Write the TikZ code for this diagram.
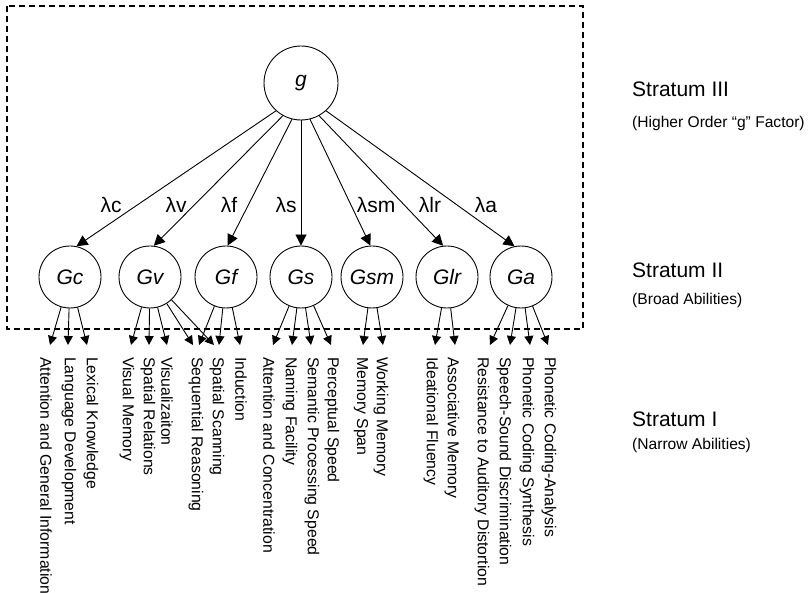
\documentclass[tikz,border=0pt]{standalone}
\usepackage{fontspec}
\setmainfont{Liberation Sans}
\usetikzlibrary{arrows.meta}
\begin{document}
\begin{tikzpicture}[x=1pt,y=-1pt,
  every node/.style={inner sep=0pt},
  latent/.style={circle,draw,line width=0.9pt,minimum size=62pt,font=\fontsize{21}{25}\selectfont\itshape},
  gnode/.style={latent,minimum size=74pt},
  load/.style={line width=0.9pt,-{Triangle[length=11pt,width=11pt]}},
  sub load/.style={line width=0.9pt,-{Triangle[length=9pt,width=9pt]}},
  narrow/.style={rotate=-90,anchor=west,font=\fontsize{15.8}{18}\selectfont},
  lam/.style={font=\fontsize{21}{25}\selectfont},
  stratum/.style={anchor=base west,font=\fontsize{21}{25}\selectfont},
  stratsub/.style={anchor=base west,font=\fontsize{15.6}{18}\selectfont},
  framebox/.style={line width=2.2pt,dash pattern=on 6pt off 4pt}]
\useasboundingbox (0,0) rectangle (808,593);

% frame
\draw[framebox] (7,6) rectangle (583,329);

% nodes
\node[gnode] (g) at (301,83) {g};
\node[latent] (Gc) at (70,277) {Gc};
\node[latent] (Gv) at (150,277) {Gv};
\node[latent] (Gf) at (226,277) {Gf};
\node[latent] (Gs) at (301,277) {Gs};
\node[latent] (Gsm) at (372,277) {Gsm};
\node[latent] (Glr) at (447,277) {Glr};
\node[latent] (Ga) at (521,277) {Ga};

% loadings
\draw[load] (g.228) -- (Gc.78);
\draw[load] (g.241) -- (Gv.83);
\draw[load] (g.256) -- (Gf.87);
\draw[load] (g.270) -- (Gs.90);
\draw[load] (g.284) -- (Gsm.93);
\draw[load] (g.299) -- (Glr.97);
\draw[load] (g.312) -- (Ga.102);

\node[lam] (lc) at (111,205) {λc};
\node[lam] (lv) at (176,205) {λv};
\node[lam] (lf) at (229,205) {λf};
\node[lam] (ls) at (286,205) {λs};
\node[lam] (lsm) at (376,205) {λsm};
\node[lam] (llr) at (430,205) {λlr};
\node[lam] (la) at (486,205) {λa};

% narrow tips
\foreach \n/\x in {c1/50,c2/68,c3/87,v1/131,v2/149,v3/167,v4/193,v5/214,
  f1/199,f2/219,f3/240,s1/273,s2/292,s3/311,s4/331,m1/363,m2/383,
  r1/435,r2/455,a1/490,a2/510,a3/530,a4/548}
  {\coordinate (t\n) at (\x,345);}

\foreach \t in {c1,c2,c3} {\draw[sub load] (Gc) -- (t\t);}
\foreach \t in {v1,v2,v3,v4,v5} {\draw[sub load] (Gv) -- (t\t);}
\foreach \t in {f1,f2,f3} {\draw[sub load] (Gf) -- (t\t);}
\foreach \t in {s1,s2,s3,s4} {\draw[sub load] (Gs) -- (t\t);}
\foreach \t in {m1,m2} {\draw[sub load] (Gsm) -- (t\t);}
\foreach \t in {r1,r2} {\draw[sub load] (Glr) -- (t\t);}
\foreach \t in {a1,a2,a3,a4} {\draw[sub load] (Ga) -- (t\t);}

% narrow labels
\node[narrow] (n1) at (46,357) {Attention and General Information};
\node[narrow] (n2) at (69,357) {Language Development};
\node[narrow] (n3) at (91,357) {Lexical Knowledge};
\node[narrow] (n4) at (127,357) {Visual Memory};
\node[narrow] (n5) at (148,357) {Spatial Relations};
\node[narrow] (n6) at (167,357) {Visualizaiton};
\node[narrow] (n7) at (196,357) {Sequential Reasoning};
\node[narrow] (n8) at (217,357) {Spatial Scanning};
\node[narrow] (n9) at (241,357) {Induction};
\node[narrow] (n10) at (269,357) {Attention and Concentration};
\node[narrow] (n11) at (290,357) {Naming Facility};
\node[narrow] (n12) at (312,357) {Semantic Processing Speed};
\node[narrow] (n13) at (332,357) {Perceptual Speed};
\node[narrow] (n14) at (361,357) {Memory Span};
\node[narrow] (n15) at (381,357) {Working Memory};
\node[narrow] (n16) at (431,357) {Ideational Fluency};
\node[narrow] (n17) at (452,357) {Associative Memory};
\node[narrow] (n18) at (482,357) {Resistance to Auditory Distortion};
\node[narrow] (n19) at (504,357) {Speech-Sound Discrimination};
\node[narrow] (n20) at (527,357) {Phonetic Coding Synthesis};
\node[narrow] (n21) at (549,357) {Phonetic Coding-Analysis};

% strata
\node[stratum] (s3) at (632,97) {Stratum III};
\node[stratsub] (s3b) at (632,128) {(Higher Order “g” Factor)};
\node[stratum] (s2) at (632,278) {Stratum II};
\node[stratsub] (s2b) at (632,305) {(Broad Abilities)};
\node[stratum] (s1) at (632,426) {Stratum I};
\node[stratsub] (s1b) at (632,449) {(Narrow Abilities)};
\end{tikzpicture}
\end{document}
